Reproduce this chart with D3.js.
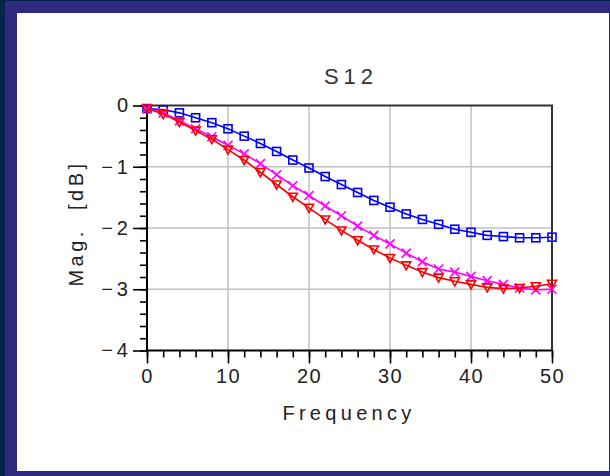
<!DOCTYPE html>
<html><head><meta charset="utf-8">
<script src="https://cdn.jsdelivr.net/npm/d3@7"></script>
<style>
html,body{margin:0;padding:0;background:#2d2a80;}
svg{display:block;}
</style></head>
<body>
<svg id="chart" width="610" height="476"></svg>
<script>
const freq = [0,2,4,6,8,10,12,14,16,18,20,22,24,26,28,30,32,34,36,38,40,42,44,46,48,50];
const blueS12 = [-0.05,-0.07,-0.12,-0.20,-0.28,-0.38,-0.50,-0.62,-0.75,-0.89,-1.02,-1.16,-1.29,-1.42,-1.55,-1.66,-1.77,-1.86,-1.94,-2.02,-2.07,-2.12,-2.14,-2.16,-2.16,-2.15];
const magentaS12 = [-0.05,-0.12,-0.25,-0.38,-0.51,-0.65,-0.79,-0.95,-1.13,-1.31,-1.47,-1.64,-1.80,-1.97,-2.12,-2.26,-2.41,-2.55,-2.67,-2.72,-2.79,-2.86,-2.92,-2.98,-3.01,-3.00];
const redS12 = [-0.05,-0.14,-0.27,-0.41,-0.55,-0.72,-0.89,-1.09,-1.29,-1.49,-1.67,-1.86,-2.04,-2.20,-2.35,-2.49,-2.61,-2.72,-2.81,-2.87,-2.92,-2.97,-2.99,-2.98,-2.95,-2.91];
const xTicks = [0,10,20,30,40,50];
const yTicks = [0,-1,-2,-3,-4];
const titleText = "S12";
const xLabel = "Frequency";
const yLabel = "Mag.  [dB]";

const svg = d3.select("#chart");
// frame
svg.append("rect").attr("x",0).attr("y",0).attr("width",610).attr("height",476).attr("fill","#2d2a80");
svg.append("rect").attr("x",0).attr("y",0).attr("width",5).attr("height",476).attr("fill","#00244a");
svg.append("rect").attr("x",0).attr("y",0).attr("width",610).attr("height",1).attr("fill","#00244a");
svg.append("rect").attr("x",17).attr("y",13).attr("width",592).attr("height",458).attr("fill","#ffffff");

const x = d3.scaleLinear().domain([0,50]).range([147,552]);
const y = d3.scaleLinear().domain([-4,0]).range([350.5,105.5]);

// grid
const g = svg.append("g");
g.selectAll("line.gx").data([10,20,30,40]).join("line")
  .attr("x1",d=>x(d)).attr("x2",d=>x(d)).attr("y1",y(0)).attr("y2",y(-4))
  .attr("stroke","#c0c0c0").attr("stroke-width",1.5);
g.selectAll("line.gy").data([-1,-2,-3]).join("line")
  .attr("y1",d=>y(d)).attr("y2",d=>y(d)).attr("x1",x(0)).attr("x2",x(50))
  .attr("stroke","#c0c0c0").attr("stroke-width",1.5);

// top & right border
svg.append("path").attr("d",`M${x(0)},${y(0)}H${x(50)}V${y(-4)}`)
  .attr("fill","none").attr("stroke","#333").attr("stroke-width",2);

// axes
const minorX = d3.range(0,51,2);
const minorY = d3.range(0,-4.01,-0.2);
const fs = "Liberation Sans, Arial, sans-serif";

const xAxisMinor = d3.axisBottom(x).tickValues(minorX).tickSize(7).tickFormat("");
const xAxisMajor = d3.axisBottom(x).tickValues(xTicks).tickSize(13).tickPadding(5).tickFormat(d3.format("d"));
const yAxisMinor = d3.axisLeft(y).tickValues(minorY).tickSize(7).tickFormat("");
const yAxisMajor = d3.axisLeft(y).tickValues(yTicks).tickSize(14).tickPadding(5)
  .tickFormat(d => d < 0 ? "\u2212\u2009" + (-d) : String(d));

function style(sel, ls){
  sel.select(".domain").attr("stroke","#000").attr("stroke-width",2);
  sel.selectAll(".tick line").attr("stroke","#000").attr("stroke-width",1.6);
  sel.selectAll(".tick text").attr("fill","#222").attr("font-family",fs).attr("font-size",20).attr("letter-spacing",ls);
}
svg.append("g").attr("transform",`translate(0,${y(-4)})`).call(xAxisMinor).call(style,"0px").select(".domain").remove();
svg.append("g").attr("transform",`translate(0,${y(-4)})`).call(xAxisMajor).call(style,"1.5px").call(s=>s.select(".domain").attr("d",`M${x(0)},0H${x(50)}`));
svg.append("g").attr("transform",`translate(${x(0)},0)`).call(yAxisMinor).call(style,"0px").select(".domain").remove();
svg.append("g").attr("transform",`translate(${x(0)},0)`).call(yAxisMajor).call(style,"0px").call(s=>s.select(".domain").attr("d",`M0,${y(0)}V${y(-4)}`));

// series
const series = [
  {vals: blueS12, color:"#0000ff", marker:"square"},
  {vals: magentaS12, color:"#ff00ff", marker:"cross"},
  {vals: redS12, color:"#ff0000", marker:"tri"}
];
const line = d3.line().x(d=>x(d[0])).y(d=>y(d[1]));
series.forEach(s=>{
  const pts = freq.map((f,i)=>[f,s.vals[i]]);
  svg.append("path").attr("d",line(pts)).attr("fill","none").attr("stroke",s.color).attr("stroke-width",1.6);
  const mg = svg.append("g").attr("fill","none").attr("stroke",s.color).attr("stroke-width",1.6);
  pts.forEach(p=>{
    const cx=x(p[0]), cy=y(p[1]);
    if(s.marker==="square"){
      mg.append("rect").attr("x",cx-4).attr("y",cy-4).attr("width",8).attr("height",8);
    } else if(s.marker==="cross"){
      mg.append("path").attr("d",`M${cx-4.5},${cy-4.5}L${cx+4.5},${cy+4.5}M${cx-4.5},${cy+4.5}L${cx+4.5},${cy-4.5}`);
    } else {
      mg.append("path").attr("d",`M${cx-4.5},${cy-3.5}H${cx+4.5}L${cx},${cy+4.5}Z`);
    }
  });
});

// texts
svg.append("text").attr("x",351).attr("y",84).attr("text-anchor","middle")
  .attr("font-family",fs).attr("font-size",22).attr("letter-spacing","5px").attr("fill","#333").text(titleText);
svg.append("text").attr("x",349).attr("y",420).attr("text-anchor","middle")
  .attr("font-family",fs).attr("font-size",20).attr("letter-spacing","4.3px").attr("fill","#222").text(xLabel);
svg.append("text").attr("transform","translate(83,223.5) rotate(-90)").attr("text-anchor","middle")
  .attr("font-family",fs).attr("font-size",20).attr("letter-spacing","3.5px").attr("fill","#222").style("white-space","pre").text(yLabel);
</script>
</body></html>
